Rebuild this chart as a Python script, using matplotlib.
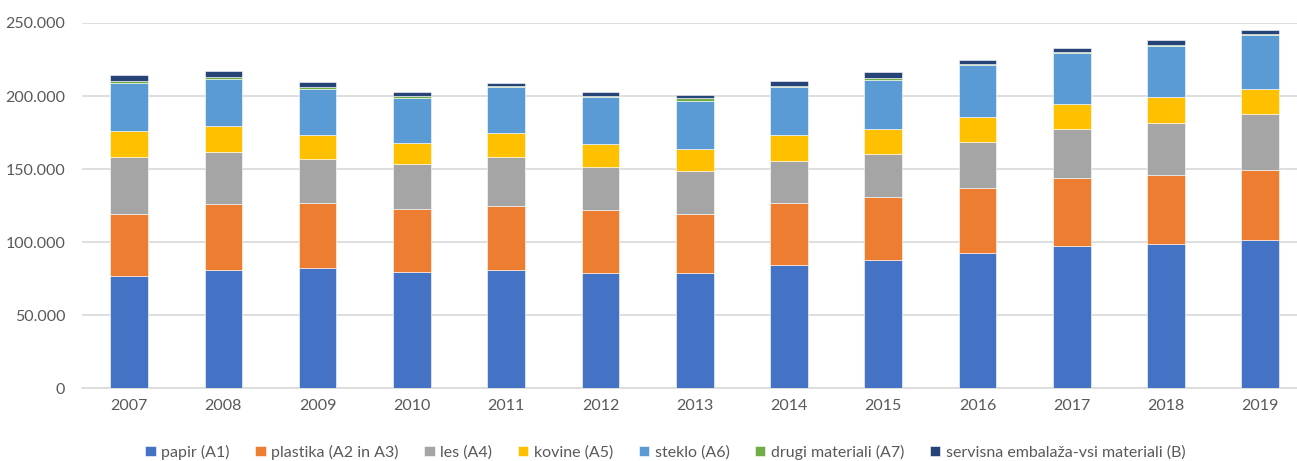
import numpy as np
import matplotlib
matplotlib.use("Agg")
import matplotlib.pyplot as plt
from matplotlib.ticker import FuncFormatter, MultipleLocator

years = ['2007', '2008', '2009', '2010', '2011', '2012', '2013',
         '2014', '2015', '2016', '2017', '2018', '2019']

# tonnes of packaging per material and year
papir = [76900, 81100, 82200, 79400, 81100, 79000, 79000, 84200, 87700, 92200, 97500, 98900, 101600]
plastika = [42500, 44900, 44300, 43200, 43800, 43100, 40400, 42300, 42900, 45000, 46600, 47000, 47700]
les = [38800, 35600, 30100, 30600, 33300, 29000, 29200, 29200, 29900, 31300, 33500, 35600, 38400]
kovine = [18000, 18100, 16400, 14600, 16200, 16000, 15100, 17300, 16700, 17100, 16700, 17600, 17100]
steklo = [32900, 31900, 31800, 31100, 31500, 32000, 33100, 32900, 33700, 35400, 34900, 35100, 37000]
drugi = [1200, 1200, 1100, 1300, 1200, 1100, 2000, 1200, 1600, 900, 700, 500, 400]
servisna = [3800, 4100, 3500, 2500, 1600, 2500, 2100, 2900, 3700, 2900, 3000, 3600, 3000]

series = [
    ('papir (A1)', papir, '#4472C4'),
    ('plastika (A2 in A3)', plastika, '#ED7D31'),
    ('les (A4)', les, '#A5A5A5'),
    ('kovine (A5)', kovine, '#FFC000'),
    ('steklo (A6)', steklo, '#5B9BD5'),
    ('drugi materiali (A7)', drugi, '#70AD47'),
    ('servisna embalaža-vsi materiali (B)', servisna, '#264478'),
]

plt.rcParams['font.family'] = ['Lato', 'DejaVu Sans']
txt = '#595959'

fig = plt.figure(figsize=(12.97, 4.61), dpi=100)
ax = fig.add_axes([82 / 1297, 73 / 461, 1215 / 1297, 365 / 461])

x = np.arange(len(years))
bottom = np.zeros(len(years))
for name, vals, col in series:
    ax.bar(x, vals, width=0.4, bottom=bottom, color=col, label=name,
           edgecolor='white', linewidth=0.4, zorder=3)
    bottom += np.array(vals)

ax.set_xlim(-0.5, 12.39)
ax.set_ylim(0, 250000)
ax.yaxis.set_major_locator(MultipleLocator(50000))
ax.yaxis.set_major_formatter(FuncFormatter(lambda v, p: f'{int(v):,}'.replace(',', '.')))
ax.set_xticks(x)
ax.set_xticklabels(years)
ax.grid(axis='y', color='#D9D9D9', linewidth=1.2, zorder=0)
for s in ['top', 'right', 'left']:
    ax.spines[s].set_visible(False)
ax.spines['bottom'].set_color('#D9D9D9')
ax.spines['bottom'].set_linewidth(1.2)
ax.tick_params(length=0, labelsize=11.5, colors=txt)
ax.tick_params(axis='y', pad=12)
ax.tick_params(axis='x', pad=8)

fig.legend(loc='lower center', bbox_to_anchor=(0.513, -0.028), ncol=7, frameon=False,
           fontsize=11.5, labelcolor=txt, handlelength=0.65, handleheight=0.65,
           handletextpad=0.35, columnspacing=1.6)

fig.savefig('out.png', dpi=100)
